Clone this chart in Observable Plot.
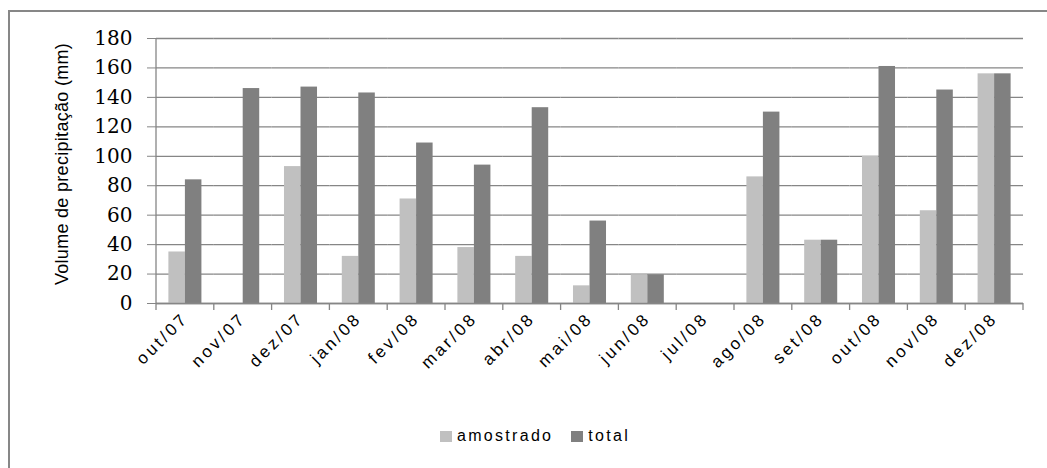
<!DOCTYPE html>
<html>
<head>
<meta charset="utf-8">
<script src="https://cdn.jsdelivr.net/npm/d3@7"></script>
<script src="https://cdn.jsdelivr.net/npm/@observablehq/plot@0.6"></script>
<style>
  html, body { margin: 0; padding: 0; background: #fff; }
  #wrap { position: relative; width: 1047px; height: 468px; overflow: hidden; background: #fff; }
  #border { position: absolute; left: 8px; top: 10px; right: 0; bottom: 0; border-top: 2px solid #878787; border-left: 2px solid #878787; }
  #chart { position: absolute; left: 0; top: 0; }
  #legend { position: absolute; left: 440px; top: 427px; display: flex; align-items: center;
            font-family: "Liberation Sans", Arial, sans-serif; font-size: 16px; letter-spacing: 2.3px; color: #000; }
  #legend .item { display: flex; align-items: center; margin-right: 18px; }
  #legend .sw { width: 12px; height: 11px; margin-right: 5px; }
  g[aria-label="y-axis tick label"] text { font-family: "DejaVu Serif", serif; }
  g[aria-label="fx-axis tick label"] text { font-family: "Liberation Sans", Arial, sans-serif; letter-spacing: 3px; }
  g[aria-label="y-axis label"] text { font-family: "Liberation Sans", Arial, sans-serif; letter-spacing: 0.3px; }
</style>
</head>
<body>
<div id="wrap">
  <div id="border"></div>
  <div id="chart"></div>
  <div id="legend"></div>
</div>
<script>
// Monthly rainfall: sampled vs. total precipitation (mm)
const months = ["out/07", "nov/07", "dez/07", "jan/08", "fev/08", "mar/08", "abr/08", "mai/08",
                "jun/08", "jul/08", "ago/08", "set/08", "out/08", "nov/08", "dez/08"];
const amostrado = [35, 0, 93, 32, 71, 38, 32, 12, 19.5, 0, 86, 43, 100, 63, 156];
const total = [84, 146, 147, 143, 109, 94, 133, 56, 19.5, 0, 130, 43, 161, 145, 156];
const series = ["amostrado", "total"];
const seriesColors = ["#c0c0c0", "#808080"];
const yTicks = [0, 20, 40, 60, 80, 100, 120, 140, 160, 180];

const rows = months.flatMap((m, i) => [
  {month: m, series: "amostrado", value: amostrado[i]},
  {month: m, series: "total", value: total[i]}
]);

const gridColor = "#868686";

const chart = Plot.plot({
  width: 1047,
  height: 400,
  marginTop: 38,
  marginBottom: 97,
  marginLeft: 156,
  marginRight: 24,
  style: {background: "transparent", color: "#000"},
  fx: {domain: months, padding: 0, round: false, label: null},
  x: {domain: series, paddingInner: 0, paddingOuter: 0.75, round: false, axis: null},
  y: {domain: [0, 180], ticks: yTicks, label: null},
  color: {domain: series, range: seriesColors},
  marks: [
    Plot.gridY(yTicks, {stroke: gridColor, strokeOpacity: 1, strokeWidth: 1.3}),
    Plot.barY(rows, {fx: "month", x: "series", y: "value", fill: "series", inset: 0}),
    Plot.ruleY([0], {stroke: gridColor, strokeWidth: 1.3}),
    Plot.axisY(yTicks, {
      tickSize: 9, tickPadding: 15, stroke: gridColor, strokeOpacity: 1, fill: "#000",
      fontSize: 20, fontFamily: "DejaVu Serif",
      label: "Volume de precipitação (mm)", labelAnchor: "center", labelArrow: "none",
      labelOffset: 101
    }),
    Plot.axisFx({
      anchor: "bottom", tickSize: 0, tickPadding: 12, tickRotate: -45, fontSize: 17, fill: "#000", label: null
    })
  ]
});

document.getElementById("chart").appendChild(chart);

// y-axis label size, nudged slightly upward
d3.select(chart).selectAll('g[aria-label="y-axis label"]').attr("font-size", 18)
  .selectAll("text").attr("dx", 7);

// Left axis line and tick marks at the month boundaries, from the plot's own scales
const fx = chart.scale("fx");
const y = chart.scale("y");
const y0 = y.apply(0), yTop = y.apply(180);
const svg = d3.select(chart);
const edges = months.map(m => fx.apply(m)).concat([fx.apply(months[months.length - 1]) + fx.bandwidth]);
const g = svg.append("g").attr("stroke", gridColor).attr("stroke-width", 1.3);
g.append("line").attr("x1", edges[0]).attr("x2", edges[0]).attr("y1", yTop).attr("y2", y0);
g.selectAll("line.tick").data(edges).join("line")
  .attr("class", "tick")
  .attr("x1", d => d).attr("x2", d => d)
  .attr("y1", y0).attr("y2", y0 + 7);

// Legend
const legend = d3.select("#legend");
series.forEach((s, i) => {
  const item = legend.append("div").attr("class", "item");
  item.append("div").attr("class", "sw").style("background", seriesColors[i]);
  item.append("span").text(s);
});
</script>
</body>
</html>
